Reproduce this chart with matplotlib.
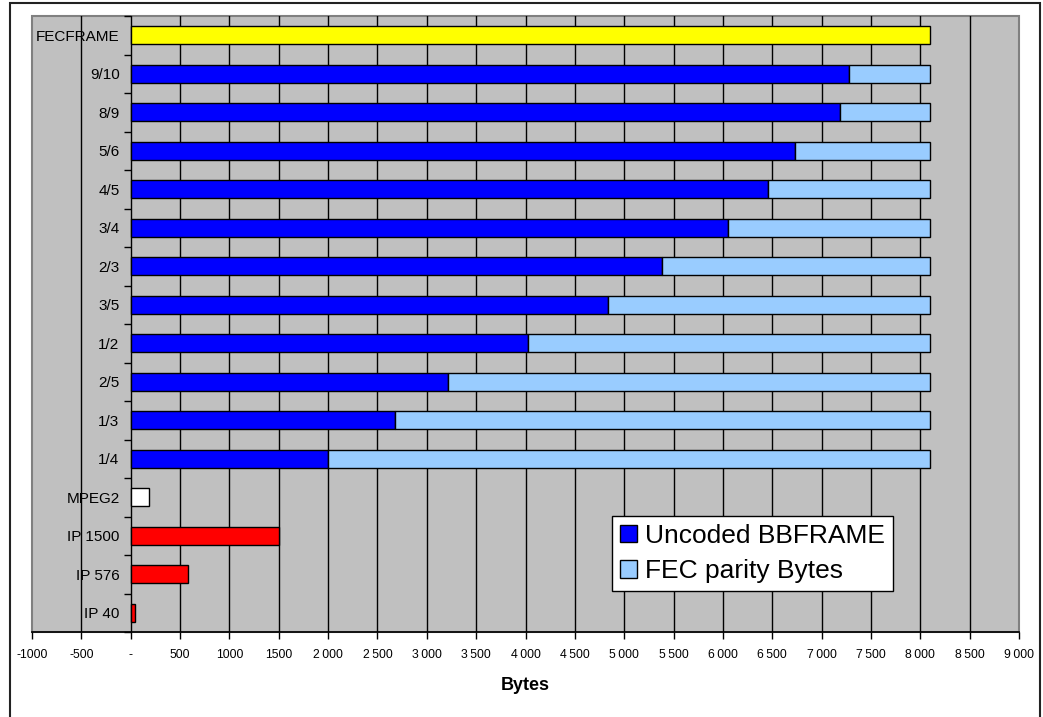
import matplotlib
matplotlib.use("Agg")
import matplotlib.pyplot as plt
from matplotlib.patches import Patch, Rectangle
import numpy as np

plt.rcParams['font.family'] = ['Liberation Sans', 'DejaVu Sans']

# Categories, listed top to bottom
code_rates = ["9/10", "8/9", "5/6", "4/5", "3/4", "2/3", "3/5", "1/2", "2/5", "1/3", "1/4"]
uncoded_bbframe = [7274, 7184, 6730, 6456, 6051, 5380, 4836, 4026, 3216, 2676, 2001]
fec_parity = [826, 916, 1370, 1644, 2049, 2720, 3264, 4074, 4884, 5424, 6099]

fecframe_label = "FECFRAME"
fecframe_bytes = 8100

packet_labels = ["MPEG2", "IP 1500", "IP 576", "IP 40"]
packet_bytes = [188, 1500, 576, 40]
packet_colors = ["#FFFFFF", "#FF0000", "#FF0000", "#FF0000"]

x_ticks = list(range(-1000, 9001, 500))
x_tick_labels = ["-1000", "-500", "-", "500", "1000", "1500", "2\u2009000", "2\u2009500",
                 "3\u2009000", "3\u2009500", "4\u2009000", "4\u2009500", "5\u2009000",
                 "5\u2009500", "6\u2009000", "6\u2009500", "7\u2009000", "7\u2009500",
                 "8\u2009000", "8\u2009500", "9\u2009000"]

categories = [fecframe_label] + code_rates + packet_labels
n = len(categories)
y = np.arange(n)

W, H = 1043, 717
fig = plt.figure(figsize=(W / 100, H / 100), dpi=100)
fig.patch.set_facecolor("white")

# Outer frame around the chart
fig.add_artist(Rectangle((9.5 / W, -0.05), (1040 - 9.5) / W, 1.05 - 2.5 / H,
                         transform=fig.transFigure, fill=False,
                         edgecolor="#222222", linewidth=1.5))

left, right, top, bottom = 32, 1019, 16, 632
ax = fig.add_axes([left / W, 1 - bottom / H, (right - left) / W, (bottom - top) / H])
ax.set_facecolor("#C0C0C0")

bar_h = 0.47
edge = dict(edgecolor="black", linewidth=1.0)

ax.barh(y[0], fecframe_bytes, height=bar_h, color="#FFFF00", zorder=3, **edge)
yr = y[1:1 + len(code_rates)]
ax.barh(yr, uncoded_bbframe, height=bar_h, color="#0000FF", zorder=3, **edge)
ax.barh(yr, fec_parity, left=uncoded_bbframe, height=bar_h, color="#99CCFF", zorder=3, **edge)
yp = y[1 + len(code_rates):]
ax.barh(yp, packet_bytes, height=bar_h, color=packet_colors, zorder=3, **edge)

ax.set_xlim(-1000, 9000)
ax.set_ylim(n - 0.5, -0.5)

# Vertical gridlines
for xv in x_ticks[1:-1]:
    ax.axvline(xv, color="black", linewidth=1.0, zorder=1)

ax.set_xticks(x_ticks)
ax.set_xticklabels(x_tick_labels, fontsize=8.8)
ax.tick_params(axis="x", direction="out", length=5, width=1, color="black", pad=7)

# Category axis sits at zero
ax.spines['left'].set_position(('data', 0))
ax.spines['left'].set_visible(False)
ax.set_yticks(y)
ax.set_yticklabels(categories, fontsize=11)
ax.set_yticks(np.arange(-0.5, n, 1.0), minor=True)
ax.tick_params(axis="y", which="major", length=0, pad=8)
ax.tick_params(axis="y", which="minor", length=5, width=1, color="black", direction="out")
for t in ax.get_yticklabels():
    t.set_zorder(5)

ax.spines['top'].set_visible(False)
ax.spines['right'].set_visible(False)
ax.spines['bottom'].set_color("black")
ax.spines['bottom'].set_linewidth(1.2)

# Plot area border
ax.add_patch(Rectangle((0, 0), 1, 1, transform=ax.transAxes, fill=False,
                       edgecolor="#808080", linewidth=1.5, zorder=0.5, clip_on=False))

ax.set_xlabel("Bytes", fontsize=13, fontweight="bold", labelpad=12)

handles = [Patch(facecolor="#0000FF", edgecolor="black", label="Uncoded BBFRAME"),
           Patch(facecolor="#99CCFF", edgecolor="black", label="FEC parity Bytes")]
leg = ax.legend(handles=handles, loc="upper left",
                bbox_to_anchor=(612 / W, 1 - 516 / H), bbox_transform=fig.transFigure,
                fontsize=19, frameon=True, fancybox=False, framealpha=1,
                handlelength=0.65, handleheight=0.65, handletextpad=0.3,
                borderpad=0.3, labelspacing=0.42, borderaxespad=0)
leg.get_frame().set_edgecolor("black")
leg.get_frame().set_linewidth(1.0)
leg.set_zorder(10)

fig.savefig("out.png", dpi=100)
